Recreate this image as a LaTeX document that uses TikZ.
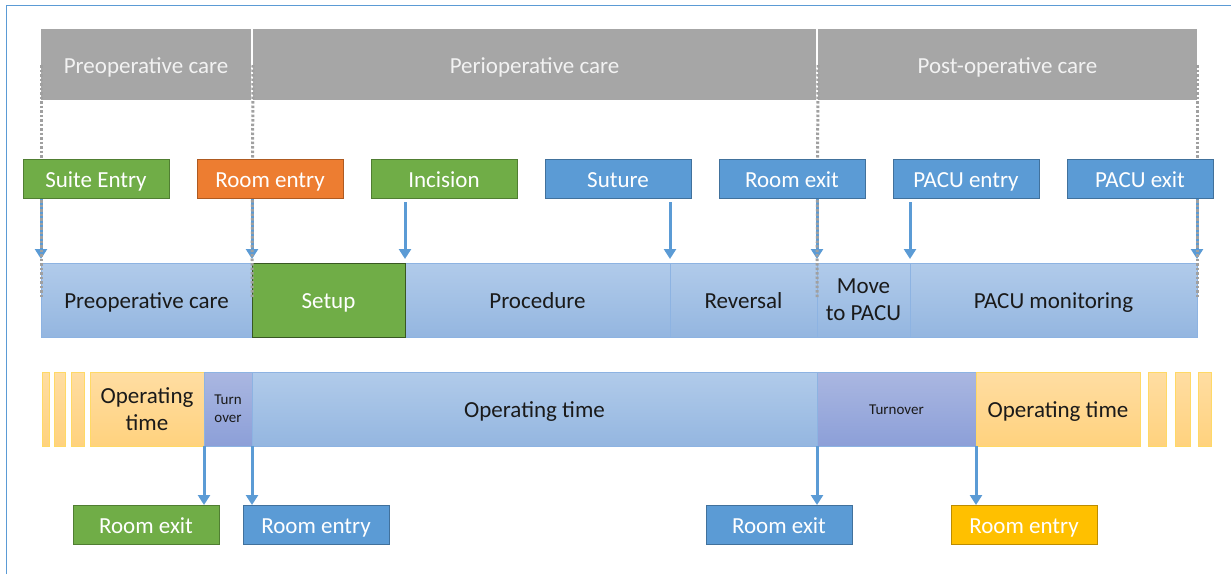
\documentclass[tikz,border=0pt]{standalone}
\usepackage{fontspec}
\setmainfont{Carlito}
\usetikzlibrary{arrows.meta}
\definecolor{frameblue}{HTML}{5B9BD5}
\definecolor{hdrgray}{HTML}{A6A6A6}
\definecolor{hdrtext}{HTML}{F2F2F2}
\definecolor{evgreen}{HTML}{70AD47}
\definecolor{evgreenD}{HTML}{507E32}
\definecolor{evorange}{HTML}{ED7D31}
\definecolor{evorangeD}{HTML}{AE5A21}
\definecolor{evblue}{HTML}{5B9BD5}
\definecolor{evblueD}{HTML}{41719C}
\definecolor{evyellow}{HTML}{FFC000}
\definecolor{evyellowD}{HTML}{BC8C00}
\definecolor{barTop}{HTML}{B1CBEA}
\definecolor{barBot}{HTML}{94B6E0}
\definecolor{barLine}{HTML}{8DB3E2}
\definecolor{turnTop}{HTML}{AAB7E1}
\definecolor{turnBot}{HTML}{8C9FD8}
\definecolor{opTop}{HTML}{FFDDA2}
\definecolor{opBot}{HTML}{FFD27E}
\definecolor{opLine}{HTML}{FFD966}
\definecolor{dotgray}{HTML}{A0A0A0}
\definecolor{txt}{HTML}{1A1A1A}
\begin{document}
\begin{tikzpicture}[x=1pt,y=-1pt,
  every node/.style={inner sep=0pt,outer sep=0pt},
  big/.style={font=\fontsize{23}{27}\selectfont},
  small/.style={font=\fontsize{15}{18}\selectfont},
  one/.style={text height=17pt,text depth=0pt},
  sone/.style={text height=10pt,text depth=0pt},
  hdr/.style={anchor=north west,fill=hdrgray,text=hdrtext,big,one,minimum height=71pt},
  evt/.style={anchor=north west,minimum width=146pt,minimum height=39pt,text=white,big,one,line width=1pt},
  gev/.style={evt,fill=evgreen,draw=evgreenD},
  oev/.style={evt,fill=evorange,draw=evorangeD},
  bev/.style={evt,fill=evblue,draw=evblueD},
  yev/.style={evt,fill=evyellow,draw=evyellowD},
  seg/.style={anchor=north west,top color=barTop,bottom color=barBot,draw=barLine,line width=0.6pt,text=txt,big,align=center,minimum height=74pt},
  tseg/.style={anchor=north west,top color=turnTop,bottom color=turnBot,draw=barLine,line width=0.6pt,text=txt,small,align=center,minimum height=74pt},
  oseg/.style={anchor=north west,top color=opTop,bottom color=opBot,draw=opLine,line width=0.6pt,text=txt,big,align=center,minimum height=74pt},
  arr/.style={draw=frameblue,line width=3pt,-{Triangle[width=12pt,length=10pt]}},
  dots/.style={draw=dotgray,line width=3pt,dash pattern=on 2.5pt off 2pt}
]
\useasboundingbox (0,0) rectangle (1231,574);
% frame
\draw[frameblue,line width=1pt] (6,574) -- (6,5) -- (1231,5);
% header
\node[hdr,minimum width=210pt] (h1) at (41,29) {Preoperative care};
\node[hdr,minimum width=563pt] (h2) at (253,29) {Perioperative care};
\node[hdr,minimum width=379pt] (h3) at (818,29) {Post-operative care};
% middle bar
\node[seg,one,minimum width=211pt] (pre) at (41,263) {Preoperative care};
\node[seg,one,minimum width=265pt] (proc) at (405,263) {Procedure};
\node[seg,one,minimum width=147pt] (rev) at (670,263) {Reversal};
\node[seg,minimum width=93pt] (move) at (817,263) {Move\\to PACU};
\node[seg,one,minimum width=287pt] (pacu) at (910,263) {PACU monitoring};
\node[anchor=north west,fill=evgreen,draw=evgreenD!70!black,line width=1pt,minimum width=153pt,minimum height=74pt,text=white,big,one] (setup) at (252,263) {Setup};
% events
\node[gev] (e1) at (23,159) {Suite Entry};
\node[oev] (e2) at (197,159) {Room entry};
\node[gev] (e3) at (371,159) {Incision};
\node[bev] (e4) at (545,159) {Suture};
\node[bev] (e5) at (719,159) {Room exit};
\node[bev] (e6) at (893,159) {PACU entry};
\node[bev] (e7) at (1067,159) {PACU exit};
% arrows top
\draw[arr,shorten >=4pt] (e1.south -| pre.north west) -- (pre.north west);
\draw[arr,shorten >=4pt] (e2.south -| setup.north west) -- (setup.north west);
\draw[arr,shorten >=4pt] ([yshift=-4pt]e3.south -| proc.north west) -- (proc.north west);
\draw[arr,shorten >=4pt] ([yshift=-4pt]e4.south -| rev.north west) -- (rev.north west);
\draw[arr,shorten >=4pt] (e5.south -| move.north west) -- (move.north west);
\draw[arr,shorten >=4pt] ([yshift=-4pt]e6.south -| pacu.north west) -- (pacu.north west);
\draw[arr,shorten >=4pt] (e7.south -| pacu.north east) -- (pacu.north east);
% dotted guides
\coordinate (d1) at ([yshift=-35pt]pre.north west);
\coordinate (d2) at ([yshift=-35pt]setup.north west);
\coordinate (d3) at ([yshift=-35pt]move.north west);
\coordinate (d4) at ([yshift=-35pt]pacu.north east);
\draw[dots] ([yshift=-36pt]h1.north west) -- (d1);
\draw[dots] ([yshift=-36pt]h2.north west) -- (d2);
\draw[dots] ([yshift=-36pt]h3.north west) -- (d3);
\draw[dots] ([yshift=-36pt]h3.north east) -- (d4);
% redraw event boxes over dots
\node[gev] at (23,159) {Suite Entry};
\node[oev] at (197,159) {Room entry};
\node[bev] at (719,159) {Room exit};
\node[bev] at (1067,159) {PACU exit};
% bottom bar
\node[oseg,minimum width=7pt] (s1) at (42,372) {};
\node[oseg,minimum width=11pt] (s2) at (54,372) {};
\node[oseg,minimum width=13pt] (s3) at (71,372) {};
\node[oseg,minimum width=114pt] (op1) at (90,372) {Operating\\time};
\node[tseg,minimum width=48pt] (t1) at (204,372) {Turn\\over};
\node[seg,one,minimum width=565pt] (op2) at (252,372) {Operating time};
\node[tseg,sone,minimum width=159pt] (t2) at (817,372) {Turnover};
\node[oseg,one,minimum width=164pt] (op3) at (976,372) {Operating time};
\node[oseg,minimum width=18pt] (s4) at (1148,372) {};
\node[oseg,minimum width=15pt] (s5) at (1175,372) {};
\node[oseg,minimum width=13pt] (s6) at (1198,372) {};
% bottom events
\node[gev] (b1) at (73,505) {Room exit};
\node[bev] (b2) at (243,505) {Room entry};
\node[bev] (b3) at (706,505) {Room exit};
\node[yev] (b4) at (951,505) {Room entry};
% bottom arrows
\draw[arr] (op1.south east) -- (op1.south east |- b1.north);
\draw[arr] (t1.south east) -- (t1.south east |- b2.north);
\draw[arr] (op2.south east) -- (op2.south east |- b3.north);
\draw[arr] (t2.south east) -- (t2.south east |- b4.north);
\end{tikzpicture}
\end{document}
